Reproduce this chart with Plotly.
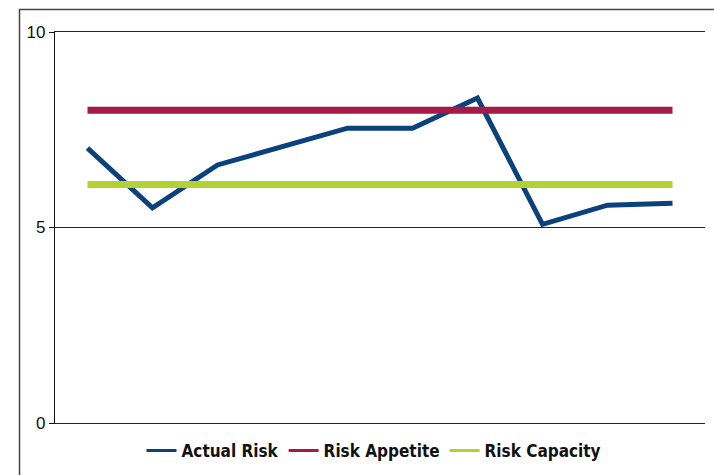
import plotly.graph_objects as go

categories = [1, 2, 3, 4, 5, 6, 7, 8, 9, 10]
actual_risk = [7.03, 5.5, 6.6, 7.07, 7.54, 7.54, 8.31, 5.08, 5.57, 5.62]
risk_appetite = [8.0] * 10
risk_capacity = [6.1] * 10
y_ticks = [0, 5, 10]

series = [
    ("Actual Risk", actual_risk, "#0b427c", 5),
    ("Risk Appetite", risk_appetite, "#a31a48", 7),
    ("Risk Capacity", risk_capacity, "#b2d234", 7),
]

W, H = 714, 475
L, R, T, B = 55, 9, 32, 52

fig = go.Figure()
for name, vals, color, width in series:
    fig.add_trace(go.Scatter(x=categories, y=vals, mode="lines", name=name,
                             line=dict(color=color, width=width), showlegend=False))
for name, vals, color, width in series:
    fig.add_trace(go.Scatter(x=[None], y=[None], mode="lines", name=name,
                             line=dict(color=color, width=3), showlegend=True))

pw = W - L - R
ph = H - T - B
def px(x):
    return (x - L) / pw
def py(y):
    return (H - B - y) / ph

fig.update_layout(
    width=W, height=H,
    margin=dict(l=L, r=R, t=T, b=B, autoexpand=False),
    paper_bgcolor="white", plot_bgcolor="white",
    showlegend=True,
    legend=dict(orientation="h", xref="container", yref="container",
                x=374 / W, xanchor="center", y=(H - 451) / H, yanchor="middle",
                font=dict(family="DejaVu Sans Condensed, Arial Narrow, sans-serif", size=17,
                          color="#111", weight="bold"),
                itemwidth=30, tracegroupgap=0),
    xaxis=dict(range=[0.5, 10.5], showgrid=False, zeroline=False, showticklabels=False,
               ticks="", showline=True, mirror=True, linecolor="#222", linewidth=1.2),
    yaxis=dict(range=[0, 10], tickvals=y_ticks, showgrid=True, gridcolor="#222", gridwidth=1.2,
               zeroline=False, showline=True, linecolor="#111", linewidth=1.2,
               ticks="outside", ticklen=5, tickcolor="#111",
               tickfont=dict(family="Liberation Sans, Arial, sans-serif", size=17, color="#111")),
    shapes=[dict(type="rect", xref="paper", yref="paper",
                 x0=px(19.5), x1=px(760), y0=py(520), y1=py(9.5),
                 line=dict(color="#444", width=1.5), fillcolor="rgba(0,0,0,0)", layer="below")],
)
fig.write_html("out.html")
